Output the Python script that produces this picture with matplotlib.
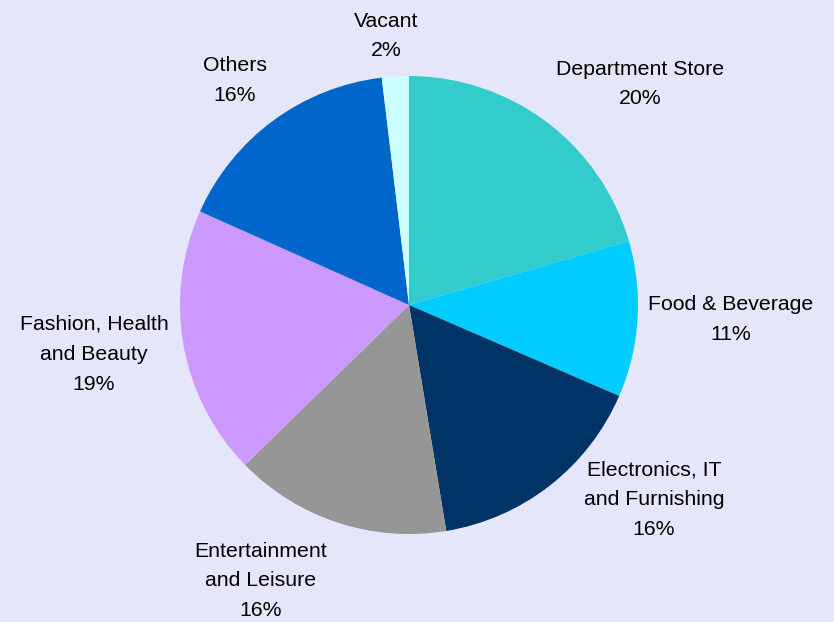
import matplotlib.pyplot as plt

# shares of floor area, clockwise from 12 o'clock
labels = ['Department Store', 'Food & Beverage', 'Electronics, IT\nand Furnishing',
          'Entertainment\nand Leisure', 'Fashion, Health\nand Beauty', 'Others', 'Vacant']
shares = [20.5, 11.0, 15.9, 15.3, 19.0, 16.4, 1.9]
pct_labels = ['20%', '11%', '16%', '16%', '19%', '16%', '2%']
colors = ['#33CCCC', '#00CCFF', '#003366', '#969696', '#CC99FF', '#0066CC', '#CCFFFF']
# label centres, in pie radii
label_xy = [(1.01, 0.965), (1.405, -0.063), (1.07, -0.85), (-0.65, -1.205),
            (-1.375, -0.215), (-0.76, 0.98), (-0.10, 1.175)]

bg = '#E6E6FA'
fig = plt.figure(figsize=(8.34, 6.22), dpi=100, facecolor=bg)
ax = fig.add_axes([0, 0, 1, 1])
ax.set_facecolor(bg)

ax.pie(shares, colors=colors, startangle=90, counterclock=False,
       radius=1.0, wedgeprops=dict(linewidth=0))

for lab, p, (x, y) in zip(labels, pct_labels, label_xy):
    ax.text(x, y, '%s\n%s' % (lab, p), ha='center', va='center',
            fontsize=15.3, family='Liberation Sans', linespacing=1.72, color='black')

R = 229.0
ax.set_xlim(-409 / R, (834 - 409) / R)
ax.set_ylim(-317 / R, 305 / R)
ax.set_aspect('auto')
ax.axis('off')

plt.savefig('out.png', dpi=100, facecolor=bg)
plt.close()
